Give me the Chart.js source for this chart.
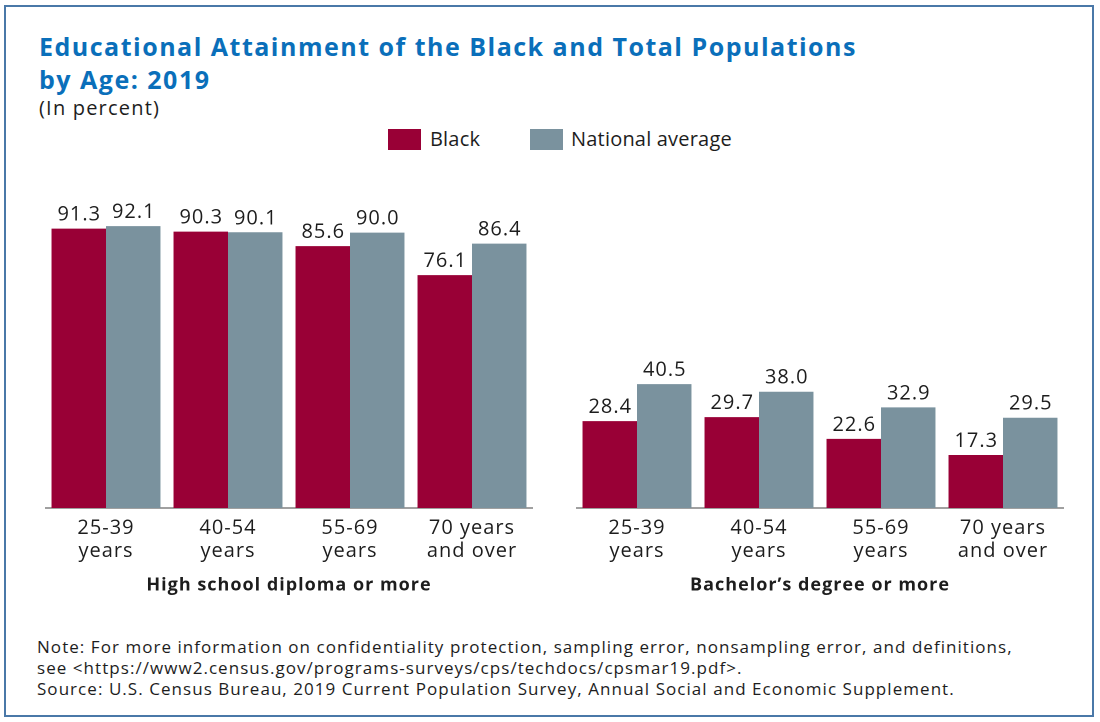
<!DOCTYPE html>
<html>
<head>
<meta charset="utf-8">
<script src="https://cdn.jsdelivr.net/npm/chart.js@4.4.1/dist/chart.umd.min.js"></script>
<style>
  body { margin: 0; background: #fff; font-family: "Open Sans", sans-serif; color: #1d1d1d; }
  #page { position: relative; width: 1100px; height: 722px; overflow: hidden; }
  #frame { position: absolute; left: 4px; top: 5px; width: 1086px; height: 708px; border: 2px solid #4a78a8; }
  .txt { position: absolute; white-space: nowrap; }
  #title { left: 39px; top: 30px; font-size: 25px; font-weight: 700; color: #0a6fba; line-height: 33px; letter-spacing: 1.5px; }
  #unit { left: 39px; top: 96px; font-size: 20px; line-height: 24px; letter-spacing: 1.2px; }
  .sw { position: absolute; width: 33px; height: 21px; top: 129px; }
  .leg { font-size: 20px; line-height: 24px; top: 127px; letter-spacing: 0.2px; }
  #note { left: 37px; top: 636px; font-size: 17px; line-height: 21px; letter-spacing: 1.05px; }
  canvas { position: absolute; }
</style>
</head>
<body>
<div id="page">
  <div id="frame"></div>
  <div id="title" class="txt">Educational Attainment of the Black and Total Populations<br>by Age: 2019</div>
  <div id="unit" class="txt">(In percent)</div>
  <div class="sw" style="left:388px; background:#990036"></div>
  <div class="txt leg" style="left:430px">Black</div>
  <div class="sw" style="left:530px; background:#7a929e"></div>
  <div class="txt leg" style="left:571px">National average</div>
  <div id="note" class="txt">Note: For more information on confidentiality protection, sampling error, nonsampling error, and definitions,<br>see &lt;https://www2.census.gov/programs-surveys/cps/techdocs/cpsmar19.pdf&gt;.<br>Source: U.S. Census Bureau, 2019 Current Population Survey, Annual Social and Economic Supplement.</div>
  <canvas id="hsChart" style="left:45px; top:180px; width:488px; height:428px"></canvas>
  <canvas id="baChart" style="left:576px; top:180px; width:488px; height:428px"></canvas>
</div>
<script>
const ageGroups = [['25-39', 'years'], ['40-54', 'years'], ['55-69', 'years'], ['70 years', 'and over']];
const seriesNames = ['Black', 'National average'];
const highSchoolBlack = [91.3, 90.3, 85.6, 76.1];
const highSchoolNational = [92.1, 90.1, 90.0, 86.4];
const bachelorBlack = [28.4, 29.7, 22.6, 17.3];
const bachelorNational = [40.5, 38.0, 32.9, 29.5];
const seriesColors = ['#990036', '#7a929e'];

// wider letter spacing so the text takes the same room as in the original
const spacing = {
    id: 'spacing',
    beforeDraw(chart) {
        chart.ctx.letterSpacing = '1px';
    }
};

// draws the value above each bar
const barValues = {
    id: 'barValues',
    afterDatasetsDraw(chart) {
        const ctx = chart.ctx;
        ctx.save();
        ctx.letterSpacing = '1px';
        ctx.font = '20px "Open Sans", sans-serif';
        ctx.fillStyle = '#1d1d1d';
        ctx.textAlign = 'center';
        ctx.textBaseline = 'alphabetic';
        chart.data.datasets.forEach(function(ds, i) {
            chart.getDatasetMeta(i).data.forEach(function(bar, j) {
                ctx.fillText(ds.data[j].toFixed(1), bar.x + 0.5, bar.y - 8);
            });
        });
        ctx.restore();
    }
};

function makeChart(id, title, black, national) {
    const ctx = document.getElementById(id).getContext('2d');
    return new Chart(ctx, {
        type: 'bar',
        data: {
            labels: ageGroups,
            datasets: [
                { label: seriesNames[0], data: black, backgroundColor: seriesColors[0] },
                { label: seriesNames[1], data: national, backgroundColor: seriesColors[1] }
            ]
        },
        options: {
            responsive: false,
            animation: false,
            devicePixelRatio: 2,
            layout: { padding: { top: 22, left: 0, right: 0, bottom: 0 } },
            datasets: { bar: { categoryPercentage: 0.893, barPercentage: 1.0 } },
            plugins: { legend: { display: false }, tooltip: { enabled: false } },
            scales: {
                y: { display: false, min: 0, max: 100 },
                x: {
                    grid: { display: false },
                    border: { display: true, color: '#a0a0a0', width: 2 },
                    ticks: {
                        color: '#1d1d1d',
                        padding: 1,
                        font: { family: '"Open Sans", sans-serif', size: 20, lineHeight: 1.15 }
                    },
                    title: {
                        display: true,
                        text: title,
                        color: '#1d1d1d',
                        padding: { top: 4, bottom: 12 },
                        font: { family: '"Open Sans", sans-serif', size: 18, weight: 'bold' }
                    },
                    afterFit: function(scale) { scale.height = 100; }
                }
            }
        },
        plugins: [spacing, barValues]
    });
}

document.addEventListener('DOMContentLoaded', function() {
    makeChart('hsChart', 'High school diploma or more', highSchoolBlack, highSchoolNational);
    makeChart('baChart', 'Bachelor\u2019s degree or more', bachelorBlack, bachelorNational);
});
</script>
</body>
</html>
